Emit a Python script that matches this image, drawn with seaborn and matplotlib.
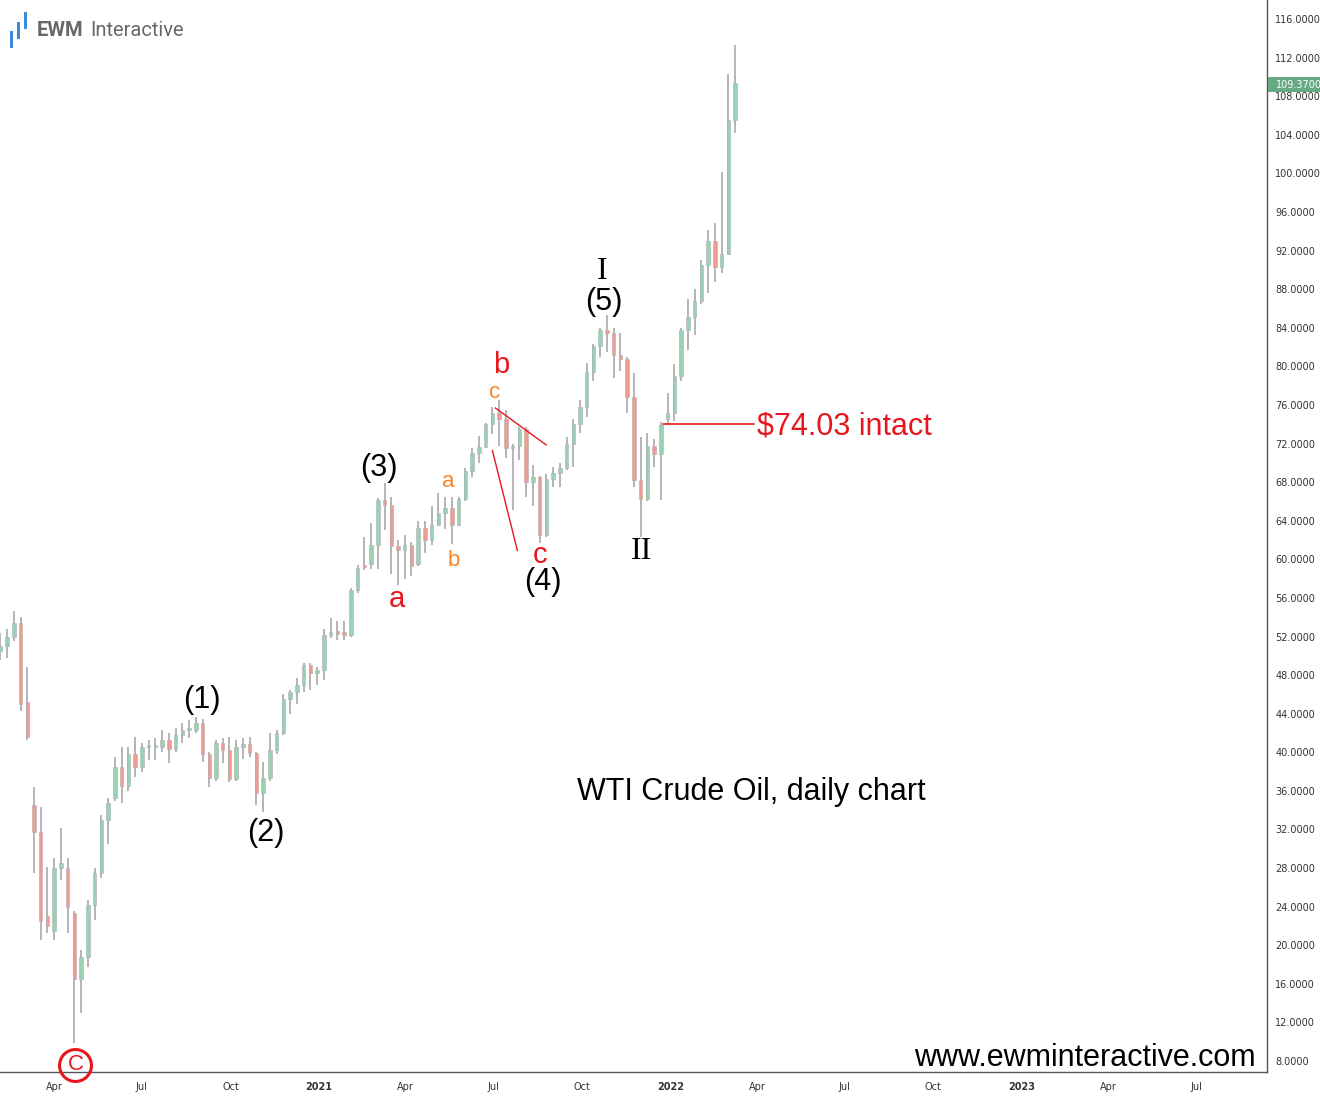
import numpy as np
import pandas as pd
import matplotlib
matplotlib.use("Agg")
import matplotlib.pyplot as plt
import matplotlib.dates as mdates
import matplotlib.transforms as mtransforms
from matplotlib.patches import Rectangle
import seaborn as sns

# ---------------- data (weekly OHLC) ----------------
first_week = "2020-02-05"
opens = [50.5, 51.0, 52.0, 53.4, 45.2, 34.5, 31.7, 23.0, 21.5, 28.0,
         28.0, 23.3, 16.5, 18.8, 24.2, 27.5, 33.0, 35.3, 38.5, 36.5,
         39.8, 38.5, 40.5, 40.5, 40.6, 41.3, 40.3, 41.8, 42.3, 42.3,
         43.0, 39.8, 37.3, 41.0, 40.2, 37.2, 40.6, 40.9, 39.9, 35.8,
         37.3, 40.2, 42.0, 45.5, 46.2, 47.0, 49.0, 48.2, 48.5, 52.2,
         52.4, 52.3, 52.2, 56.8, 59.3, 59.5, 61.5, 66.1, 65.6, 61.4,
         61.0, 61.5, 59.5, 63.2, 62.0, 63.6, 64.8, 65.3, 63.6, 66.3,
         69.2, 71.0, 71.6, 74.0, 75.2, 74.5, 71.5, 71.8, 73.5, 68.0,
         68.5, 62.5, 68.3, 69.0, 69.5, 72.0, 74.0, 75.8, 79.4, 82.1,
         83.8, 83.5, 81.2, 80.8, 76.8, 68.2, 66.3, 71.7, 70.9, 74.5,
         75.2, 79.0, 83.8, 85.1, 86.8, 90.5, 93.0, 90.3, 91.6, 105.5]
highs = [52.4, 52.8, 54.6, 54.0, 48.8, 36.4, 34.3, 28.1, 29.0, 32.2,
         29.0, 23.5, 19.5, 24.7, 28.0, 33.5, 35.3, 39.5, 40.5, 40.5,
         41.6, 41.0, 41.3, 41.5, 42.3, 42.0, 42.5, 43.0, 43.3, 43.7,
         43.5, 40.0, 41.3, 41.5, 41.6, 41.3, 41.5, 41.6, 40.0, 39.0,
         42.0, 42.3, 46.0, 46.5, 47.7, 49.3, 49.3, 48.8, 52.8, 53.9,
         53.6, 53.6, 57.0, 59.4, 62.3, 63.8, 66.4, 67.9, 66.5, 62.0,
         62.5, 61.8, 64.0, 64.0, 65.5, 66.9, 66.5, 66.5, 66.5, 69.5,
         71.5, 72.8, 74.1, 75.8, 76.5, 75.5, 72.0, 73.7, 73.7, 69.8,
         68.6, 68.8, 69.6, 70.0, 72.7, 74.5, 76.5, 80.4, 82.3, 84.0,
         85.3, 84.0, 83.5, 81.0, 79.3, 72.7, 73.1, 72.5, 74.2, 77.2,
         80.3, 84.0, 87.0, 88.0, 91.0, 94.1, 94.9, 100.2, 110.3, 113.3]
lows = [49.6, 49.8, 51.5, 44.3, 41.3, 27.5, 20.5, 21.3, 20.5, 26.8,
        21.3, 9.9, 13.0, 17.7, 22.6, 27.0, 30.5, 35.0, 34.7, 36.0,
        37.4, 38.0, 39.2, 39.2, 40.0, 38.9, 40.0, 41.0, 41.5, 42.0,
        39.0, 36.4, 37.0, 38.9, 36.9, 37.0, 39.3, 39.5, 34.5, 33.8,
        37.0, 39.8, 41.8, 44.0, 45.0, 46.3, 46.5, 47.0, 47.5, 51.8,
        51.6, 51.6, 52.0, 56.5, 58.9, 59.0, 59.0, 63.0, 58.5, 57.3,
        58.0, 58.3, 59.3, 60.7, 61.5, 63.5, 63.1, 61.6, 63.5, 66.0,
        68.5, 70.0, 71.5, 73.0, 71.8, 70.5, 65.1, 70.3, 66.5, 65.5,
        61.7, 62.3, 67.5, 67.5, 69.3, 69.6, 73.1, 74.8, 78.5, 81.0,
        81.5, 78.8, 79.5, 75.2, 67.5, 62.3, 66.0, 69.6, 66.2, 74.03,
        74.3, 78.5, 81.7, 83.3, 86.5, 87.6, 88.8, 89.7, 91.5, 104.2]
closes = [51.0, 52.0, 53.4, 45.0, 41.6, 31.7, 22.5, 22.0, 28.0, 28.5,
          24.0, 16.5, 18.8, 24.2, 27.5, 33.0, 34.7, 38.5, 36.5, 39.8,
          38.5, 40.5, 40.5, 40.6, 41.3, 40.3, 41.8, 42.3, 42.3, 43.0,
          39.8, 37.3, 41.0, 40.2, 37.2, 40.6, 40.9, 39.9, 35.8, 37.3,
          40.2, 42.0, 45.5, 46.2, 47.0, 49.0, 48.2, 48.5, 52.2, 52.4,
          52.3, 52.2, 56.8, 59.1, 59.2, 61.5, 66.1, 65.6, 61.4, 61.0,
          61.5, 59.3, 63.2, 62.0, 63.6, 64.8, 65.3, 63.6, 66.3, 69.2,
          71.0, 71.6, 74.0, 75.2, 74.5, 71.5, 71.8, 73.5, 68.0, 68.5,
          62.5, 68.3, 69.0, 69.5, 72.0, 74.0, 75.8, 79.4, 82.1, 83.8,
          83.5, 81.2, 80.8, 76.8, 68.2, 66.3, 71.7, 70.9, 73.9, 75.2,
          79.0, 83.8, 85.1, 86.8, 90.5, 93.0, 90.3, 91.6, 105.5, 109.37]

last_price = 109.37
support_level = 74.03
y_ticks = list(range(8, 117, 4))
x_tick_dates = ["2020-04-01", "2020-07-01", "2020-10-01", "2021-01-01", "2021-04-01",
                "2021-07-01", "2021-10-01", "2022-01-01", "2022-04-01", "2022-07-01",
                "2022-10-01", "2023-01-01", "2023-04-01", "2023-07-01"]
x_tick_labels = ["Apr", "Jul", "Oct", "2021", "Apr", "Jul", "Oct", "2022",
                 "Apr", "Jul", "Oct", "2023", "Apr", "Jul"]

# wave labels: (text, date, price, colour, size, family)
RED = "#e8161c"
ORANGE = "#f5842a"
wave_labels = [
    ("(1)", "2020-09-01", 45.4, "black", 22, "Liberation Sans"),
    ("(2)", "2020-11-07", 31.6, "black", 22, "Liberation Sans"),
    ("(3)", "2021-03-04", 69.5, "black", 22, "Liberation Sans"),
    ("(4)", "2021-08-21", 57.6, "black", 22, "Liberation Sans"),
    ("(5)", "2021-10-24", 86.7, "black", 22, "Liberation Sans"),
    ("I", "2021-10-22", 89.8, "black", 23, "Liberation Serif"),
    ("II", "2021-12-02", 60.8, "black", 23, "Liberation Serif"),
    ("a", "2021-03-23", 55.9, RED, 21, "Liberation Sans"),
    ("b", "2021-07-09", 80.1, RED, 21, "Liberation Sans"),
    ("c", "2021-08-19", 60.5, RED, 21, "Liberation Sans"),
    ("a", "2021-05-15", 68.1, ORANGE, 16, "Liberation Sans"),
    ("b", "2021-05-21", 59.9, ORANGE, 16, "Liberation Sans"),
    ("c", "2021-07-02", 77.3, ORANGE, 16, "Liberation Sans"),
]
triangle_lines = [(("2021-07-03", 75.7), ("2021-08-25", 71.85)),
                  (("2021-06-30", 71.3), ("2021-07-26", 60.9))]

# ---------------- figure ----------------
sns.set_theme(style="white")
plt.rcParams["font.family"] = ["DejaVu Sans"]

W, H = 1320, 1097
fig = plt.figure(figsize=(W / 100, H / 100), dpi=100)
fig.patch.set_facecolor("white")
ax = fig.add_axes([0, 25 / H, 1267 / W, 1072 / H])
ax.set_facecolor("white")

df = pd.DataFrame({"date": pd.date_range(first_week, periods=len(opens), freq="7D"),
                   "open": opens, "high": highs, "low": lows, "close": closes})
xs = mdates.date2num(df["date"])
up = df["close"] >= df["open"]
body_lo = np.minimum(df["open"], df["close"])
body_h = np.maximum(np.abs(df["close"] - df["open"]), 0.25)

ax.vlines(xs, df["low"], df["high"], color="#a0a0a0", lw=1.1, zorder=2)
ax.bar(xs, body_h, bottom=body_lo, width=3.6,
       color=np.where(up, "#98d2b2", "#f29a8f"),
       edgecolor="#b0b0b0", linewidth=0.4, zorder=3)

# axes limits and ticks
ref = mdates.date2num(pd.Timestamp("2021-01-01"))
ax.set_xlim(ref - 331.3, ref + 984.4)
ax.set_ylim(6.86, 117.98)
ax.yaxis.tick_right()
ax.set_yticks(y_ticks)
ax.set_yticklabels([f"{v:.4f}" for v in y_ticks])
ax.set_xticks(mdates.date2num(pd.to_datetime(x_tick_dates)))
ax.set_xticklabels(x_tick_labels)
for lab in ax.get_xticklabels():
    if lab.get_text().isdigit():
        lab.set_fontweight("bold")
ax.tick_params(axis="both", length=0, labelsize=7, colors="#333333")
ax.tick_params(axis="y", pad=6)
ax.tick_params(axis="x", pad=7)
ax.grid(False)
for s in ["top", "left"]:
    ax.spines[s].set_visible(False)
for s in ["right", "bottom"]:
    ax.spines[s].set_color("#555555")
    ax.spines[s].set_linewidth(1.0)

# wave labels
for txt, d, p, col, size, fam in wave_labels:
    ax.text(mdates.date2num(pd.Timestamp(d)), p, txt, color=col, fontsize=size,
            family=fam, ha="center", va="center", zorder=5)

# triangle lines
for (d1, p1), (d2, p2) in triangle_lines:
    ax.plot([mdates.date2num(pd.Timestamp(d1)), mdates.date2num(pd.Timestamp(d2))],
            [p1, p2], color=RED, lw=1.0, zorder=4)

# support line + label
ax.plot([mdates.date2num(pd.Timestamp("2021-12-24")), mdates.date2num(pd.Timestamp("2022-03-29"))],
        [support_level, support_level], color=RED, lw=1.2, zorder=4)
ax.text(mdates.date2num(pd.Timestamp("2022-04-01")), support_level - 0.3,
        f"${support_level:.2f} intact",
        color=RED, fontsize=22, family="Liberation Sans", ha="left", va="center")

ax.text(mdates.date2num(pd.Timestamp("2021-09-26")), 35.9, "WTI Crude Oil, daily chart",
        color="black", fontsize=22, family="Liberation Sans", ha="left", va="center")
ax.text(0.991, 8.3, "www.ewminteractive.com", color="black", fontsize=22,
        family="Liberation Sans", ha="right", va="center",
        transform=mtransforms.blended_transform_factory(ax.transAxes, ax.transData))

# circled C at the low
cx = mdates.date2num(pd.Timestamp("2020-04-23"))
ax.plot([cx], [7.6], marker="o", markersize=23, markerfacecolor="none",
        markeredgecolor=RED, markeredgewidth=2.2, clip_on=False, zorder=6)
ax.text(cx, 7.6, "C", color=RED, fontsize=16, family="Liberation Sans",
        ha="center", va="center", clip_on=False, zorder=6)

# last price tag
bt = mtransforms.blended_transform_factory(ax.transAxes, ax.transData)
ax.add_patch(Rectangle((1.0005, last_price - 0.9), 0.05, 1.5, transform=bt,
                       facecolor="#67a982", edgecolor="none", clip_on=False, zorder=7))
ax.text(1.0 + 9 / 1267, last_price - 0.15, f"{last_price:.4f}", transform=bt, color="white",
        fontsize=7, ha="left", va="center", clip_on=False, zorder=8)

# logo
for (x0, y0, x1, y1) in [(10, 31, 13, 48), (17, 22, 20, 39), (24, 12, 27, 29)]:
    fig.add_artist(Rectangle((x0 / W, 1 - y1 / H), (x1 - x0) / W, (y1 - y0) / H,
                             transform=fig.transFigure, facecolor="#3c8ad8",
                             edgecolor="none"))
fig.text(37 / W, 1 - 31 / H, "EWM", family="Roboto", fontweight="bold", fontsize=14.5,
         color="#686868", ha="left", va="center")
fig.text(90 / W, 1 - 31 / H, "Interactive", family="Roboto", fontsize=14.5,
         color="#686868", ha="left", va="center")

fig.savefig("out.png", dpi=100, facecolor="white")
